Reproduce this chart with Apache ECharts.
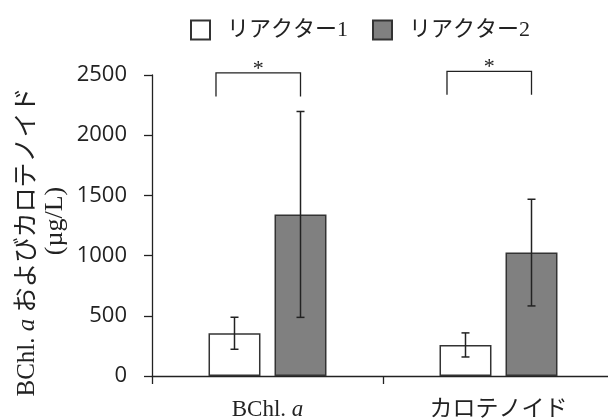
<!DOCTYPE html>
<html>
<head>
<meta charset="utf-8">
<script src="https://cdn.jsdelivr.net/npm/echarts@6/dist/echarts.min.js"></script>
<style>html,body{margin:0;padding:0;background:#fff;}#c{width:608px;height:419px;}</style>
</head>
<body>
<div id="c"></div>
<script>
const categories = ['BChl. a', 'カロテノイド'];
const seriesNames = ['リアクター1', 'リアクター2'];
const reactor1 = [355, 258];
const reactor1Err = [133, 100];
const reactor2 = [1342, 1025];
const reactor2Err = [855, 443];
const yMin = 0, yMax = 2500, yInterval = 500;
const sigLabels = ['*', '*'];
const bracketTop = [2518, 2530];
const bracketBottom = [2322, 2336];

const SERIF = "'Liberation Serif', 'Noto Sans CJK JP'";
const INK = '#222';
const BAR_W = 0.225, BAR_GAP = 0.27;

const chart = echarts.init(document.getElementById('c'), null, {renderer: 'canvas'});

function errData(vals, errs, sign) {
  return vals.map((v, i) => [i, v - errs[i], v + errs[i], sign]);
}

function renderErr(params, api) {
  const idx = api.value(0);
  const band = api.size([1, 0])[0];
  const bw = band * BAR_W;
  const off = (bw + bw * BAR_GAP) / 2 * api.value(3);
  const lo = api.coord([idx, api.value(1)]);
  const hi = api.coord([idx, api.value(2)]);
  const x = lo[0] + off;
  const cap = 4;
  const st = {stroke: INK, lineWidth: 1.5};
  return {type: 'group', children: [
    {type: 'line', shape: {x1: x, y1: lo[1], x2: x, y2: hi[1]}, style: st},
    {type: 'line', shape: {x1: x - cap, y1: lo[1], x2: x + cap, y2: lo[1]}, style: st},
    {type: 'line', shape: {x1: x - cap, y1: hi[1], x2: x + cap, y2: hi[1]}, style: st}
  ]};
}

function renderBracket(params, api) {
  const idx = api.value(0);
  const band = api.size([1, 0])[0];
  const bw = band * BAR_W;
  const c = api.coord([idx, api.value(1)]);
  const b = api.coord([idx, api.value(2)]);
  const xl = c[0] - band * 0.223;
  const xr = c[0] + (bw + bw * BAR_GAP) / 2;
  const st = {stroke: INK, lineWidth: 1.3, fill: null};
  return {type: 'group', children: [
    {type: 'polyline', shape: {points: [[xl, b[1]], [xl, c[1]], [xr, c[1]], [xr, b[1]]]}, style: st},
    {type: 'text', x: (xl + xr) / 2, y: c[1] - 4,
     style: {text: sigLabels[idx], font: "22px 'Liberation Serif'", fill: INK, align: 'center', verticalAlign: 'middle'}}
  ]};
}

const option = {
  animation: false,
  backgroundColor: '#fff',
  grid: {left: 152, width: 462, top: 75, bottom: 43, containLabel: false, outerBoundsMode: 'none'},
  legend: {
    left: 185, top: 14,
    icon: 'rect', itemWidth: 19, itemHeight: 19, itemGap: 24,
    data: seriesNames,
    textStyle: {fontFamily: SERIF, fontSize: 22, color: INK, padding: [0, 0, 0, 12]}
  },
  xAxis: {
    type: 'category', data: categories,
    axisLine: {show: true, lineStyle: {color: INK, width: 1.3}},
    axisTick: {show: true, length: 8, lineStyle: {color: INK, width: 1.3}},
    axisLabel: {
      interval: 0, hideOverlap: false,
      margin: 22, fontFamily: SERIF, fontSize: 23, color: INK,
      formatter: v => / a$/.test(v) ? '{n|' + v.replace(/ a$/, ' ') + '}{i|a}' : '{n|' + v + '}',
      rich: {
        n: {fontFamily: SERIF, fontSize: 23, color: INK},
        i: {fontFamily: SERIF, fontSize: 23, fontStyle: 'italic', color: INK}
      }
    }
  },
  yAxis: {
    type: 'value', min: yMin, max: yMax, interval: yInterval,
    axisLine: {show: true, lineStyle: {color: INK, width: 1.3}},
    axisTick: {show: true, length: 8, lineStyle: {color: INK, width: 1.3}},
    splitLine: {show: false},
    axisLabel: {margin: 25, fontFamily: "'Open Sans'", fontSize: 22, color: INK, formatter: v => String(v)}
  },
  graphic: [
    {type: 'text', x: 27, y: 242, rotation: Math.PI / 2,
     style: {text: '{n|BChl. }{i|a}{n| およびカロテノイド}', font: "25px " + SERIF, fill: INK, align: 'center', verticalAlign: 'middle',
       rich: {
         n: {fontFamily: SERIF, fontSize: 25, fill: INK},
         i: {fontFamily: SERIF, fontSize: 25, fontStyle: 'italic', fill: INK}
       }}},
    {type: 'text', x: 55, y: 221, rotation: Math.PI / 2,
     style: {text: '(µg/L)', font: "26px " + SERIF, fill: INK, align: 'center', verticalAlign: 'middle'}}
  ],
  series: [
    {name: seriesNames[0], type: 'bar', data: reactor1, barWidth: (BAR_W * 100) + '%', barGap: (BAR_GAP * 100) + '%',
     itemStyle: {color: '#ffffff', borderColor: '#333', borderWidth: 1.5}},
    {name: seriesNames[1], type: 'bar', data: reactor2, barWidth: (BAR_W * 100) + '%', barGap: (BAR_GAP * 100) + '%',
     itemStyle: {color: '#808080', borderColor: '#333', borderWidth: 1.5}},
    {type: 'custom', renderItem: renderErr, data: errData(reactor1, reactor1Err, -1), z: 5, silent: true},
    {type: 'custom', renderItem: renderErr, data: errData(reactor2, reactor2Err, 1), z: 5, silent: true},
    {type: 'custom', renderItem: renderBracket, data: bracketTop.map((t, i) => [i, t, bracketBottom[i]]), z: 5, silent: true, clip: false}
  ]
};
chart.setOption(option);
</script>
</body>
</html>
